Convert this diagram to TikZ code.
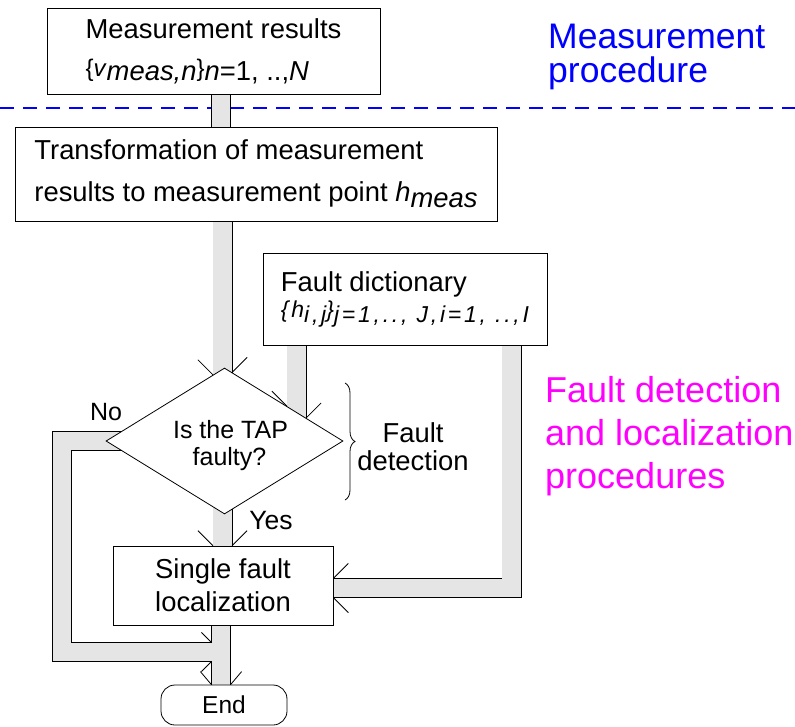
\documentclass[tikz,border=0pt]{standalone}
\usepackage{fontspec}
\setmainfont{Liberation Sans}
\usetikzlibrary{calc,shapes.geometric,backgrounds,decorations.pathreplacing}
\definecolor{procblue}{RGB}{0,0,255}
\definecolor{procpink}{RGB}{255,0,255}
\newcommand\upbit[1]{\raisebox{4pt}{\fontsize{24}{24}\selectfont #1}}
\newcommand\downbit[1]{\raisebox{-6pt}{#1}}
\tikzset{
  box/.style={draw, line width=.8pt, fill=white, inner sep=0pt, align=left,
    font=\fontsize{27.4}{42}\selectfont},
  pipe/.style={draw=black, line width=.8pt, double=gray!20, double distance=18.4pt},
  chev/.style={line width=.8pt},
  note/.style={align=left, inner sep=0pt},
}
\begin{document}
\begin{tikzpicture}[x=1pt,y=-1pt]
\useasboundingbox (0,0) rectangle (795,726);
\node[box, minimum width=333pt, minimum height=86pt] (meas) at (213.5,51)
  {Measurement results\\ \upbit{\{\textit{v}}\textit{meas,n}\upbit{\}}\textit{n}=1, ..,\textit{N}};
\node[box, minimum width=482pt, minimum height=94pt] (trans) at (256,174)
  {Transformation of measurement\\ results to measurement point \textit{h}\downbit{\textit{meas}}};
\node[box, minimum width=284pt, minimum height=92pt, font=\fontsize{27.4}{31}\selectfont] (dict) at (405,299)
  {Fault dictionary\\ {\fontsize{23}{23}\selectfont\itshape\addfontfeature{LetterSpace=12}\raisebox{5pt}{\{h}i,j\raisebox{5pt}{\}}j=1,.., J,i=1, ..,I}};
\node[draw, diamond, aspect=1.62, line width=.8pt, fill=white, inner sep=0pt, align=center,
  minimum width=237pt, minimum height=146pt, font=\fontsize{25}{27}\selectfont] (dia) at (224.5,441)
  {\hspace*{12pt}\rule{0pt}{28pt}Is the TAP\\ \hspace*{10pt}faulty?};
\node[box, minimum width=220pt, minimum height=79pt, align=center, font=\fontsize{27.4}{33}\selectfont] (loc) at (223,585.5)
  {Single fault\\ localization};
\node[box, rounded corners=14pt, minimum width=126pt, minimum height=40pt, font=\fontsize{24.5}{24.5}\selectfont] (end) at (224,705) {End};

\node[note, anchor=base, font=\fontsize{25}{25}\selectfont] (no) at (106,420) {No};
\node[note, anchor=base, font=\fontsize{26.5}{26.5}\selectfont] (yes) at (271,529) {Yes};
\node[note, anchor=base, align=center, font=\fontsize{27.4}{28}\selectfont] (fdet) at (413,470) {Fault\\ detection};
\node[note, anchor=base west, text=procblue, font=\fontsize{35.5}{34}\selectfont] (mproc) at (548,82) {Measurement\\ procedure};
\node[note, anchor=base west, text=procpink, font=\fontsize{36}{43}\selectfont] (fproc) at (545,488) {Fault detection\\ and localization\\ procedures};
\draw[decorate, decoration={brace, amplitude=10pt}, line width=.8pt] (345,383) -- (345,500);

\coordinate (nobend) at (62,652);
\coordinate (nojoin) at (211.8,652);
\begin{scope}[on background layer]
\draw[procblue, line width=1.6pt, dash pattern=on 14pt off 9pt] (0,108) -- (795,108);
\draw[pipe] (meas.center -| 221,0) -- (trans.center -| 221,0);
\draw[pipe] (trans.center -| 222.5,0) -- (dia.center -| 222.5,0);
\draw[pipe] (dict.center -| 296.5,0) -- (dia.center -| 296.5,0);
\draw[pipe] (dia.center -| 222.5,0) -- (loc.center -| 222.5,0);
\draw[pipe] (dict.center -| 511.5,0) |- (loc.center |- 0,588);
\draw[pipe] (loc.center -| 221,0) -- (end.center -| 221,0);
\draw[pipe] (dia.center) -| (nobend) -- (nojoin);
\end{scope}

\coordinate (tA) at (intersection of dia.north--dia.west and 212.9,300--212.9,400);
\coordinate (tB) at (intersection of dia.north--dia.east and 232.1,300--232.1,400);
\coordinate (tC) at (intersection of dia.north--dia.east and 286.9,300--286.9,400);
\coordinate (tD) at (intersection of dia.north--dia.east and 306.1,300--306.1,400);
\coordinate (tE) at (loc.north -| 212.9,0);
\coordinate (tF) at (loc.north -| 232.1,0);
\coordinate (tG) at (loc.east |- 0,578.4);
\coordinate (tH) at (loc.east |- 0,597.6);
\coordinate (tI) at (end.north -| 211.4,0);
\coordinate (tJ) at (end.north -| 230.6,0);
\coordinate (tK) at ($(nojoin)+(-0.4,-9.6)$);
\coordinate (tL) at ($(nojoin)+(-0.4,9.6)$);
\foreach \tip/\dx/\dy in {tA/-15/-15, tB/15/-15, tC/-15/-15, tD/15/-15, tE/-15/-15, tF/15/-15,
  tG/15/-15, tH/15/15, tI/-11/-13, tJ/11/-13, tK/-10/-10, tL/-10/10}
  \draw[chev] (\tip) -- ++(\dx,\dy);
\end{tikzpicture}
\end{document}
